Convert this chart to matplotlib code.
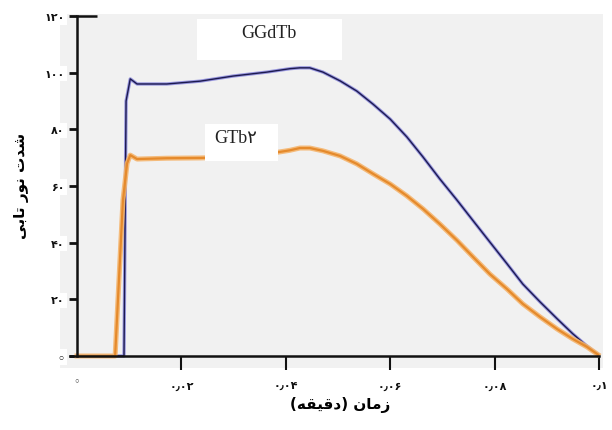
import matplotlib
matplotlib.use("Agg")
import matplotlib.pyplot as plt
from matplotlib.patches import Rectangle

# time (min) / intensity
ggdtb_t = [0, 0.009, 0.0094, 0.0102, 0.0115, 0.0172, 0.0236, 0.0299, 0.0364,
           0.0408, 0.0427, 0.0446, 0.0471, 0.0504, 0.0536, 0.0567, 0.06, 0.0632,
           0.0663, 0.0695, 0.0728, 0.0759, 0.0791, 0.0824, 0.0854,
           0.0887, 0.092, 0.095, 0.0977, 0.0998]
ggdtb_i = [0, 0, 90, 97.8, 96, 96, 97, 98.8, 100.2,
           101.4, 101.7, 101.7, 100.2, 97.1, 93.5, 88.9, 83.6, 77.3,
           70.2, 62.5, 55.0, 47.7, 40.2, 32.5, 25.4,
           19.1, 13.1, 7.8, 3.5, 0.5]

gtb2_t = [0, 0.0073, 0.0088, 0.0096, 0.0102, 0.0115, 0.0172, 0.0236, 0.0299,
          0.0364, 0.0408, 0.0427, 0.0446, 0.0471, 0.0504, 0.0536, 0.0567, 0.06,
          0.0632, 0.0663, 0.0695, 0.0728, 0.0759, 0.0791, 0.0824,
          0.0854, 0.0887, 0.092, 0.095, 0.0977, 0.0998]
gtb2_i = [0, 0, 55, 68, 70.9, 69.5, 69.8, 69.9, 70.2,
          71.3, 72.6, 73.4, 73.4, 72.4, 70.6, 67.8, 64.3, 60.7,
          56.5, 51.9, 46.6, 40.8, 34.9, 28.9, 23.6,
          18.4, 13.8, 9.5, 6, 3.2, 0.5]

x_ticks = [0.02, 0.04, 0.06, 0.08, 0.1]
x_labels = ["۰٫۰۲", "۰٫۰۴", "۰٫۰۶", "۰٫۰۸", "۰٫۱"]
y_ticks = [0, 20, 40, 60, 80, 100, 120]
y_labels = ["\u25e6", "۲۰", "۴۰", "۶۰", "۸۰", "۱۰۰", "۱۲۰"]

# Persian labels, pre-shaped (presentation forms, visual order)
xlabel_txt = "(\uFEEA\uFED8\uFEF4\uFED7\uFEA9) \uFEE5\uFE8E\uFEE3\uFEAF"   # زمان (دقیقه)
ylabel_txt = "\uFEF0\uFE91\uFE8E\uFE97 \uFEAD\uFEEE\uFEE7 \uFE95\uFEAA\uFEB7"  # شدت نور تابی

W, H = 612, 431
fig = plt.figure(figsize=(W / 100, H / 100), dpi=100)
fig.set_facecolor("white")

# axes covers the grey panel
ax = fig.add_axes([60 / W, 1 - 369 / H, (603 - 60) / W, (369 - 15) / H])
ax.set_facecolor("#f1f1f1")
ax.set_xlim(-0.00326, 0.10077)
ax.set_ylim(-4.24, 120.7)

# curves: soft halo + core
ax.plot(ggdtb_t, ggdtb_i, color="#7a78d8", lw=2.4, alpha=0.75, solid_joinstyle="round")
ax.plot(ggdtb_t, ggdtb_i, color="#1c1a50", lw=1.0, solid_joinstyle="round")
ax.plot(gtb2_t, gtb2_i, color="#f5b56e", lw=3.6, alpha=0.9, solid_joinstyle="round")
ax.plot(gtb2_t, gtb2_i, color="#e58a2c", lw=1.6, solid_joinstyle="round")

# axes lines
for s in ["top", "right"]:
    ax.spines[s].set_visible(False)
ax.spines["left"].set_position(("data", 0))
ax.spines["left"].set_bounds(0, 120)
ax.spines["bottom"].set_position(("data", 0))
ax.spines["bottom"].set_bounds(-0.0013, 0.1)
for s in ["left", "bottom"]:
    ax.spines[s].set_linewidth(1.8)
    ax.spines[s].set_color("#111111")
ax.hlines(y_ticks[-1], 0, 0.0038, color="#111111", lw=1.8)

ax.set_xticks(x_ticks)
ax.set_xticklabels(x_labels, family="DejaVu Sans", fontsize=8, fontweight="bold")
ax.tick_params(axis="x", direction="out", length=10, width=1.5, pad=8, colors="#111111")
ax.set_yticks(y_ticks)
ax.set_yticklabels(y_labels, family="DejaVu Sans", fontsize=8, fontweight="bold")
ax.tick_params(axis="y", direction="out", length=6, width=2, pad=3, colors="#111111")
for lbl in ax.get_yticklabels():
    lbl.set_bbox(dict(facecolor="white", edgecolor="none", pad=2))
ax.text(0, -9, "\u25e6", ha="center", va="center", fontsize=8, family="DejaVu Sans",
        color="#333333", clip_on=False)

# series name boxes
fig.patches.append(Rectangle((197 / W, 1 - 61 / H), 145 / W, 41 / H,
                             transform=fig.transFigure, facecolor="white", edgecolor="none"))
fig.patches.append(Rectangle((205 / W, 1 - 162 / H), 73 / W, 37 / H,
                             transform=fig.transFigure, facecolor="white", edgecolor="none"))
fig.text(269 / W, 1 - 33 / H, "GGdTb", ha="center", va="center", fontsize=13,
         family=["Liberation Serif", "DejaVu Sans"], color="#222222")
fig.text(236 / W, 1 - 139 / H, "GTb۲", ha="center", va="center", fontsize=13,
         family=["Liberation Serif", "DejaVu Sans"], color="#222222")

fig.text(340 / W, 1 - 405 / H, xlabel_txt, ha="center", va="center", fontsize=11,
         fontweight="bold", family="DejaVu Sans")
fig.text(22 / W, 1 - 186 / H, ylabel_txt, ha="center", va="center", fontsize=11,
         fontweight="bold", family="DejaVu Sans", rotation=90)

fig.savefig("out.png", dpi=100)
